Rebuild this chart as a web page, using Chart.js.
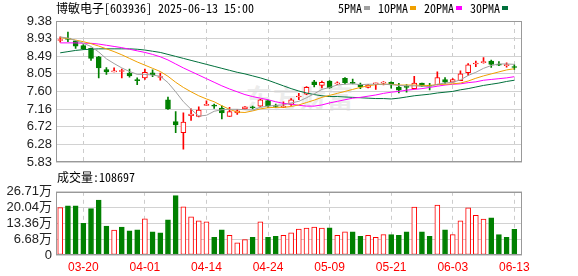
<!DOCTYPE html>
<html>
<head>
<meta charset="utf-8">
<title>博敏电子 日K</title>
<script src="https://cdn.jsdelivr.net/npm/chart.js@4.4.1/dist/chart.umd.min.js"></script>
<style>
  html, body { margin: 0; padding: 0; background: #fff; }
  body { position: relative; width: 578px; height: 276px; overflow: hidden; }
  .txt { position: absolute; font-family: "Noto Sans Mono CJK SC", "Noto Sans CJK SC", monospace; font-size: 12px; line-height: 14px; color: #000; white-space: pre; }
  #title { left: 56px; top: 1px; }
  #legend { left: 338px; top: 1px; }
  #legend i { display: inline-block; width: 6px; height: 4px; margin: 0 8px 0 2px; vertical-align: 3px; }
  #volLabel { left: 57px; top: 170px; }
  #mark { position: absolute; left: 246px; top: 82px; font-family: "Noto Sans CJK SC", sans-serif; font-weight: 700; font-size: 26px; line-height: 30px; color: #ececec; letter-spacing: 1px; }
  #kBox { position: absolute; left: 0; top: 0; }
  #vBox { position: absolute; left: 0; top: 180px; }
</style>
</head>
<body>
<div id="mark">东方财富</div>
<div id="kBox"><canvas id="kChart" width="578" height="174"></canvas></div>
<div id="vBox"><canvas id="vChart" width="578" height="96"></canvas></div>
<div class="txt" id="title">博敏电子[603936] 2025-06-13 15:00</div>
<div class="txt" id="legend"></div>
<div class="txt" id="volLabel">成交量:108697</div>
<script>
const dates = [
  "03-17", "03-18", "03-19", "03-20", "03-21", "03-24", "03-25", "03-26", "03-27", "03-28",
  "03-31", "04-01", "04-02", "04-03", "04-07", "04-08", "04-09", "04-10", "04-11", "04-14",
  "04-15", "04-16", "04-17", "04-18", "04-21", "04-22", "04-23", "04-24", "04-25", "04-28",
  "04-29", "04-30", "05-06", "05-07", "05-08", "05-09", "05-12", "05-13", "05-14", "05-15",
  "05-16", "05-19", "05-20", "05-21", "05-22", "05-23", "05-26", "05-27", "05-28", "05-29",
  "05-30", "06-03", "06-04", "06-05", "06-06", "06-09", "06-10", "06-11", "06-12", "06-13",
];
const tickDates = ["03-20", "04-01", "04-14", "04-24", "05-09", "05-21", "06-03", "06-13"];
const priceTicks = [5.83, 6.28, 6.72, 7.16, 7.60, 8.05, 8.49, 8.93, 9.38];
const volTicks = [0, 6.68, 13.36, 20.04, 26.71];

const open = [
  8.89, 8.95, 8.88, 8.76, 8.69, 8.48, 8.16, 8.10, 8.11, 8.07,
  7.89, 7.95, 8.08, 7.96, 7.40, 6.85, 6.57, 7.00, 6.98, 7.26,
  7.25, 7.19, 6.98, 7.07, 7.17, 7.21, 7.24, 7.38, 7.25, 7.21,
  7.28, 7.47, 7.54, 7.85, 7.76, 7.87, 7.80, 7.94, 7.82, 7.79,
  7.71, 7.80, 7.82, 7.84, 7.72, 7.72, 7.68, 7.82, 7.75, 7.78,
  7.91, 7.84, 7.88, 8.08, 8.30, 8.33, 8.37, 8.28, 8.26, 8.22,
];
const high = [
  8.98, 9.10, 8.89, 8.79, 8.70, 8.49, 8.21, 8.20, 8.17, 8.17,
  7.95, 8.17, 8.15, 8.07, 7.47, 7.10, 7.07, 7.17, 7.22, 7.37,
  7.29, 7.25, 7.21, 7.15, 7.23, 7.24, 7.41, 7.39, 7.29, 7.35,
  7.43, 7.56, 7.73, 7.89, 7.87, 7.88, 7.85, 7.96, 7.92, 7.82,
  7.79, 7.82, 7.86, 7.85, 7.81, 7.78, 7.99, 7.82, 7.81, 8.10,
  7.96, 7.93, 8.13, 8.31, 8.37, 8.46, 8.40, 8.36, 8.33, 8.28,
];
const low = [
  8.85, 8.86, 8.69, 8.66, 8.39, 7.95, 8.04, 8.10, 7.95, 7.97,
  7.78, 7.91, 7.98, 7.89, 7.16, 6.57, 6.16, 6.88, 6.97, 7.26,
  7.18, 6.92, 6.98, 7.03, 7.16, 7.17, 7.23, 7.20, 7.21, 7.20,
  7.26, 7.40, 7.53, 7.72, 7.70, 7.69, 7.78, 7.80, 7.80, 7.68,
  7.70, 7.66, 7.77, 7.69, 7.57, 7.59, 7.67, 7.73, 7.65, 7.77,
  7.81, 7.84, 7.88, 8.01, 8.23, 8.32, 8.21, 8.26, 8.22, 8.16,
];
const close = [
  8.91, 8.92, 8.75, 8.68, 8.44, 8.20, 8.10, 8.13, 8.11, 8.00,
  7.88, 8.09, 8.03, 7.96, 7.17, 6.77, 6.84, 7.04, 7.14, 7.27,
  7.24, 7.07, 7.10, 7.12, 7.22, 7.20, 7.40, 7.25, 7.23, 7.24,
  7.40, 7.49, 7.71, 7.78, 7.84, 7.70, 7.82, 7.83, 7.81, 7.72,
  7.77, 7.81, 7.83, 7.77, 7.64, 7.71, 7.82, 7.74, 7.74, 7.96,
  7.84, 7.91, 8.05, 8.28, 8.32, 8.36, 8.29, 8.27, 8.26, 8.21,
];

const ma5 = [
  8.98, 8.95, 8.89, 8.82, 8.74, 8.60, 8.43, 8.31, 8.20, 8.11,
  8.04, 8.04, 8.02, 7.99, 7.83, 7.60, 7.35, 7.16, 6.99, 7.01,
  7.11, 7.15, 7.16, 7.16, 7.15, 7.14, 7.21, 7.24, 7.26, 7.27,
  7.32, 7.36, 7.45, 7.55, 7.66, 7.71, 7.77, 7.79, 7.80, 7.78,
  7.79, 7.79, 7.79, 7.78, 7.76, 7.75, 7.75, 7.74, 7.73, 7.79,
  7.82, 7.84, 7.90, 8.01, 8.09, 8.19, 8.26, 8.30, 8.30, 8.29,
];
const ma10 = [
  8.96, 8.94, 8.90, 8.86, 8.81, 8.75, 8.68, 8.61, 8.53, 8.44,
  8.35, 8.27, 8.19, 8.11, 7.99, 7.84, 7.71, 7.60, 7.50, 7.42,
  7.35, 7.25, 7.16, 7.09, 7.08, 7.12, 7.17, 7.20, 7.21, 7.21,
  7.23, 7.27, 7.33, 7.39, 7.46, 7.51, 7.56, 7.61, 7.66, 7.71,
  7.75, 7.78, 7.79, 7.79, 7.77, 7.77, 7.77, 7.76, 7.76, 7.78,
  7.79, 7.80, 7.82, 7.87, 7.94, 8.00, 8.05, 8.10, 8.15, 8.18,
];
const ma20 = [
  8.83, 8.83, 8.83, 8.82, 8.82, 8.80, 8.77, 8.74, 8.71, 8.67,
  8.63, 8.59, 8.54, 8.48, 8.40, 8.30, 8.20, 8.11, 8.02, 7.93,
  7.84, 7.75, 7.67, 7.60, 7.53, 7.48, 7.44, 7.40, 7.35, 7.31,
  7.29, 7.26, 7.24, 7.24, 7.27, 7.32, 7.36, 7.40, 7.44, 7.46,
  7.49, 7.52, 7.56, 7.59, 7.61, 7.64, 7.66, 7.68, 7.71, 7.74,
  7.77, 7.79, 7.80, 7.83, 7.85, 7.89, 7.91, 7.93, 7.95, 7.98,
];
const ma30 = [
  8.58, 8.61, 8.64, 8.66, 8.67, 8.68, 8.68, 8.68, 8.68, 8.68,
  8.67, 8.65, 8.62, 8.59, 8.54, 8.49, 8.44, 8.39, 8.34, 8.29,
  8.24, 8.19, 8.14, 8.09, 8.05, 8.00, 7.95, 7.89, 7.82, 7.75,
  7.68, 7.62, 7.57, 7.53, 7.50, 7.48, 7.48, 7.47, 7.46, 7.45,
  7.44, 7.43, 7.43, 7.42, 7.44, 7.47, 7.50, 7.52, 7.54, 7.57,
  7.59, 7.61, 7.65, 7.68, 7.72, 7.76, 7.79, 7.82, 7.86, 7.89,
];

// 成交量, 万股
const volume = [
  20.0, 20.8, 20.8, 13.4, 19.6, 23.2, 12.2, 10.5, 11.8, 10.2,
  10.6, 15.3, 9.8, 9.4, 14.9, 25.1, 20.4, 16.1, 14.4, 14.0,
  7.5, 10.6, 8.3, 5.1, 6.5, 7.5, 14.0, 7.5, 7.9, 8.3,
  9.4, 11.0, 11.4, 11.8, 11.4, 11.5, 8.3, 9.8, 9.8, 7.9,
  8.3, 7.5, 8.6, 8.6, 8.3, 9.8, 20.3, 9.8, 7.9, 21.1,
  10.6, 8.6, 14.4, 19.9, 16.8, 15.2, 15.7, 8.6, 7.5, 10.87,
];
// 1 = red (up) volume bar, 0 = green
const volUp = [
  1, 0, 0, 0, 0, 0, 0, 1, 0, 0,
  0, 1, 0, 0, 0, 0, 1, 1, 1, 1,
  0, 0, 1, 1, 1, 0, 1, 0, 0, 1,
  1, 1, 1, 1, 1, 0, 1, 1, 0, 0,
  1, 1, 1, 0, 0, 0, 1, 0, 0, 1,
  0, 1, 1, 1, 1, 1, 0, 0, 0, 0,
];

const RED = "#ff0000";
const GREEN = "#008000";
const maLines = [
  { name: "5PMA", data: ma5, color: "#a0a0a0" },
  { name: "10PMA", data: ma10, color: "#f0a000" },
  { name: "20PMA", data: ma20, color: "#ff00ff" },
  { name: "30PMA", data: ma30, color: "#00703c" },
];

document.getElementById("legend").innerHTML = maLines
  .map((m) => `${m.name}<i style="background:${m.color}"></i>`)
  .join("");

const idx = dates.map((d, i) => i);
const up = idx.map((i) => close[i] >= open[i]);
const AXIS_FONT = { family: "Liberation Sans, Noto Sans CJK SC", size: 13 };

// grey box round the plot area
const frame = {
  id: "frame",
  afterDraw(chart) {
    const { ctx, chartArea: a } = chart;
    ctx.save();
    ctx.strokeStyle = "#999";
    ctx.lineWidth = 1;
    ctx.strokeRect(Math.round(a.left) + 0.5, Math.round(a.top) + 0.5,
      Math.round(a.right - a.left) - 1, Math.round(a.bottom - a.top) - 1);
    ctx.restore();
  },
};

function timeAxis(showLabels) {
  return {
    type: "linear",
    min: -0.55,
    max: 60,
    offset: false,
    afterBuildTicks: (s) => {
      s.ticks = tickDates.map((d) => ({ value: dates.indexOf(d) }));
    },
    afterFit: (s) => {
      s.height = showLabels ? 21 : 0;
    },
    ticks: {
      display: showLabels,
      autoSkip: false,
      maxRotation: 0,
      padding: 5,
      color: RED,
      font: { family: "Liberation Sans", size: 12 },
      callback: (v) => dates[v],
    },
    grid: { color: "#cccccc", drawTicks: false, offset: false },
    border: { display: false, dash: [4, 4] },
  };
}

function valueAxis(min, max, ticks, fmt) {
  return {
    min: min,
    max: max,
    afterBuildTicks: (s) => {
      s.ticks = ticks.map((v) => ({ value: v }));
    },
    afterFit: (s) => {
      s.width = 56;
    },
    ticks: { autoSkip: false, padding: 4, color: "#222", font: AXIS_FONT, callback: fmt },
    grid: { color: "#d2d2d2", drawTicks: false },
    border: { display: false },
  };
}

const common = {
  responsive: false,
  animation: false,
  events: [],
  plugins: { legend: { display: false }, tooltip: { enabled: false } },
};

new Chart(document.getElementById("kChart"), {
  type: "bar",
  data: {
    datasets: [
      ...maLines.map((m) => ({
        type: "line",
        label: m.name,
        data: idx.map((i) => ({ x: i, y: m.data[i] })),
        borderColor: m.color,
        borderWidth: 1,
        pointRadius: 0,
        tension: 0,
        order: 0,
      })),
      {
        label: "body",
        data: idx.map((i) => ({ x: i, y: [open[i], close[i]] })),
        backgroundColor: idx.map((i) => (up[i] ? "#ffffff" : GREEN)),
        borderColor: idx.map((i) => (up[i] ? RED : GREEN)),
        borderWidth: 1,
        borderSkipped: false,
        barThickness: 5,
        minBarLength: 1,
        grouped: false,
        order: 1,
      },
      {
        label: "wick",
        data: idx.map((i) => ({ x: i, y: [low[i], high[i]] })),
        backgroundColor: idx.map((i) => (up[i] ? RED : GREEN)),
        barThickness: 1,
        grouped: false,
        order: 2,
      },
    ],
  },
  options: {
    ...common,
    layout: { padding: { top: 21, right: 56, bottom: 9, left: 0 } },
    scales: {
      x: timeAxis(false),
      y: valueAxis(5.83, 9.38, priceTicks, (v) => v.toFixed(2)),
    },
  },
  plugins: [frame],
});

new Chart(document.getElementById("vChart"), {
  type: "bar",
  data: {
    datasets: [
      {
        label: "成交量",
        data: idx.map((i) => ({ x: i, y: volume[i] })),
        backgroundColor: idx.map((i) => (volUp[i] ? "#ffffff" : GREEN)),
        borderColor: idx.map((i) => (volUp[i] ? RED : GREEN)),
        borderWidth: 1,
        borderSkipped: false,
        barThickness: 5,
      },
    ],
  },
  options: {
    ...common,
    layout: { padding: { top: 7, right: 56, bottom: 0, left: 0 } },
    scales: {
      x: timeAxis(true),
      y: valueAxis(0, 26.71, volTicks, (v) => (v === 0 ? "0" : v.toFixed(2) + "万")),
    },
  },
  plugins: [frame],
});
</script>
</body>
</html>
